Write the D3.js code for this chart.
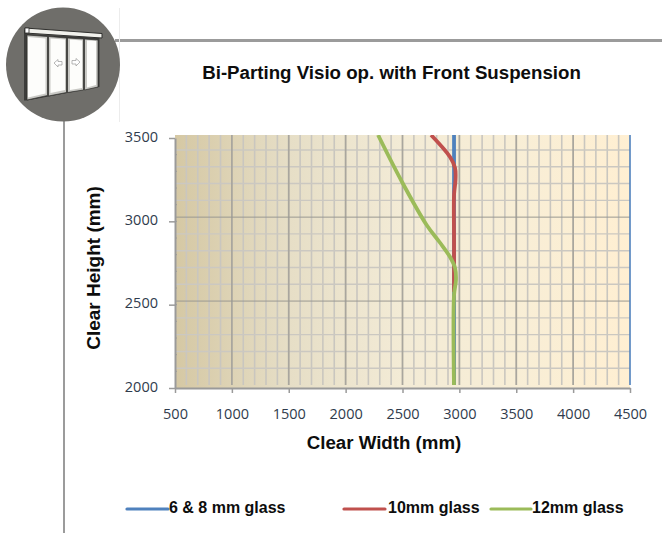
<!DOCTYPE html>
<html>
<head>
<meta charset="utf-8">
<script src="https://cdn.jsdelivr.net/npm/d3@7/dist/d3.min.js"></script>
<style>
html,body{margin:0;padding:0;background:#fff}
svg{display:block}
</style>
</head>
<body>
<svg id="c" width="662" height="533"></svg>
<script>
const chartTitle = "Bi-Parting Visio op. with Front Suspension";
const xTitle = "Clear Width (mm)";
const yTitle = "Clear Height (mm)";
const xTicks = [500,1000,1500,2000,2500,3000,3500,4000,4500];
const yTicks = [2000,2500,3000,3500];
const seriesNames = ["6 & 8 mm glass","10mm glass","12mm glass"];
const seriesColors = ["#4f81bd","#c0504d","#9bbb59"];
const glass8 = [[2953,2000],[2953,3000],[2953,3520]];
const glass10 = [[2953,2576],[2953,2900],[2953,3158],[2966,3248],[2962,3320],[2918,3386],[2751,3518]];
const glass12 = [[2953,2000],[2953,2558],[2970,2648],[2962,2720],[2918,2786],[2825,2876],[2712,2978],[2496,3236],[2285,3518]];

const svg = d3.select("#c");
const x = d3.scaleLinear().domain([500,4500]).range([175,630]);
const y = d3.scaleLinear().domain([2000,3500]).range([388,138]);
const yGrid = d3.scaleLinear().domain([2000,3500]).range([385,133.2]);
const plot = {l:175,r:630,t:135,b:388,gridB:385};

const defs = svg.append("defs");
const g = defs.append("linearGradient").attr("id","bg");
[[0,"#d5c8a4"],[0.25,"#e6dec6"],[0.5,"#f3ebd6"],[0.75,"#f8eed6"],[1,"#ffefd2"]].forEach(s=>g.append("stop").attr("offset",s[0]).attr("stop-color",s[1]));
defs.append("clipPath").attr("id","clip").append("rect").attr("x",plot.l).attr("y",plot.t).attr("width",plot.r-plot.l).attr("height",plot.gridB-plot.t);

// page furniture
svg.append("line").attr("x1",115).attr("x2",662).attr("y1",40.5).attr("y2",40.5).attr("stroke","#9b9b9b").attr("stroke-width",3);
svg.append("line").attr("x1",64).attr("x2",64).attr("y1",120).attr("y2",533).attr("stroke","#9b9b9b").attr("stroke-width",2);
svg.append("line").attr("x1",119.5).attr("x2",119.5).attr("y1",8).attr("y2",122).attr("stroke","#ececec").attr("stroke-width",1);

// icon
const ic = svg.append("g");
ic.append("circle").attr("cx",63).attr("cy",64.5).attr("r",57).attr("fill","#6f6e6a");
const panels = [
 "27,35 47.5,36.5 47.5,95.5 27,100",
 "48.5,36.5 66.5,38 66.5,92.5 48.5,96",
 "67.5,38 83.5,39 83.5,90 67.5,92.5",
 "84.5,39 98,40 98,87 84.5,90"];
const inner = [
 "28,37 45.5,38.5 45.5,93.5 28,97.5",
 "50.5,38.5 65,39.5 65,90 50.5,93",
 "70,39.5 82,40.5 82,88 70,90",
 "87,40.5 96,41 96,85 87,87.5"];
ic.append("polygon").attr("points","24,30 27,30 27,100.5 24,100.5").attr("fill","#3c3c3a");
ic.append("polygon").attr("points","27,34 99.5,38 99.5,87 27,100.5").attr("fill","#3a3a38");
panels.forEach(p=>ic.append("polygon").attr("points",p).attr("fill","#c9c9c5").attr("stroke","#2f2f2d").attr("stroke-width",.7));
inner.forEach(p=>ic.append("polygon").attr("points",p).attr("fill","#fdfdfb"));
ic.append("polygon").attr("points","25,28 102,33.5 102,38 25,33").attr("fill","#f1f1ec").attr("stroke","#2f2f2d").attr("stroke-width",1);
ic.append("rect").attr("x",25).attr("y",28).attr("width",4).attr("height",5).attr("fill","#fff").attr("stroke","#2f2f2d").attr("stroke-width",.8);
ic.append("polygon").attr("points","54,63 58,59.5 58,61.5 62,61.5 62,65 58,65 58,67").attr("fill","#fff").attr("stroke","#999").attr("stroke-width",.7);
ic.append("polygon").attr("points","80,62 76,58.5 76,60.5 72,60.5 72,64 76,64 76,66").attr("fill","#fff").attr("stroke","#999").attr("stroke-width",.7);

// plot background
svg.append("rect").attr("x",plot.l).attr("y",plot.t).attr("width",plot.r-plot.l).attr("height",plot.b-plot.t).attr("fill","url(#bg)");

// grid
const grid = svg.append("g");
const xMinor = d3.range(500,4501,100), yMinor = d3.range(2100,3500,100);
grid.selectAll(".vm").data(xMinor.filter(v=>v%500 && v>500)).join("line")
 .attr("x1",d=>x(d)).attr("x2",d=>x(d)).attr("y1",plot.t).attr("y2",plot.gridB)
 .attr("stroke","#c9c6bf").attr("stroke-width",1.6);
grid.selectAll(".hm").data(yMinor.filter(v=>v%500)).join("line")
 .attr("x1",plot.l).attr("x2",plot.r).attr("y1",d=>yGrid(d)).attr("y2",d=>yGrid(d))
 .attr("stroke","#cbc8c1").attr("stroke-width",1.4);
grid.selectAll(".vM").data(xTicks.filter(v=>v>500&&v<4500)).join("line")
 .attr("x1",d=>x(d)).attr("x2",d=>x(d)).attr("y1",plot.t).attr("y2",plot.gridB)
 .attr("stroke","#a9a69e").attr("stroke-width",1.8);
grid.selectAll(".hM").data(yTicks.filter(v=>v>2000&&v<3500)).join("line")
 .attr("x1",plot.l).attr("x2",plot.r).attr("y1",d=>yGrid(d)).attr("y2",d=>yGrid(d))
 .attr("stroke","#9a9892").attr("stroke-width",1);

// series
const line = d3.line().x(d=>x(d[0])).y(d=>y(d[1])).curve(d3.curveCatmullRom.alpha(0.5));
const lines = svg.append("g").attr("clip-path","url(#clip)");
[glass8,glass10,glass12].forEach((s,i)=>lines.append("path").attr("d",line(s)).attr("fill","none")
 .attr("stroke",seriesColors[i]).attr("stroke-width",3.8));
// right-hand edge
svg.append("line").attr("x1",x(4500)).attr("x2",x(4500)).attr("y1",plot.t).attr("y2",plot.gridB).attr("stroke",seriesColors[0]).attr("stroke-width",1.6);

// axes
const tickFont = "'Open Sans',sans-serif";
const ax = svg.append("g").attr("transform",`translate(0,${plot.b})`)
 .call(d3.axisBottom(x).tickValues(xTicks).tickSize(5).tickPadding(16).tickSizeOuter(0).tickFormat(d3.format("d")));
const ay = svg.append("g").attr("transform",`translate(${plot.l},0)`)
 .call(d3.axisLeft(y).tickValues(yTicks).tickSize(6).tickPadding(11).tickSizeOuter(0).tickFormat(d3.format("d")));
[ax,ay].forEach(a=>{
 a.selectAll("path").attr("stroke","#9a9a9a").attr("stroke-width",2);
 a.selectAll("line").attr("stroke","#9a9a9a").attr("stroke-width",1.5);
 a.selectAll("text").attr("font-family",tickFont).attr("font-size",14.5).attr("fill","#2f3b4c");
});
ay.selectAll("text").attr("dy","0.22em");
svg.append("g").selectAll("line").data(yMinor).join("line")
 .attr("x1",plot.l).attr("x2",plot.l+2).attr("y1",d=>y(d)).attr("y2",d=>y(d)).attr("stroke","#9a9a9a").attr("stroke-width",1);

// text
const bold = (sel,size)=>sel.attr("font-family","'Liberation Sans',Arial,sans-serif").attr("font-weight","bold").attr("font-size",size).attr("fill","#0d0d0d");
bold(svg.append("text").attr("x",391.5).attr("y",79).attr("text-anchor","middle").text(chartTitle),18.7);
bold(svg.append("text").attr("x",384).attr("y",449).attr("text-anchor","middle").text(xTitle),18.7);
bold(svg.append("text").attr("transform","translate(99.5,268) rotate(-90)").attr("text-anchor","middle").text(yTitle),19);

// legend
const legX = [[127,168,169],[344,385,388],[491,531,532]];
seriesNames.forEach((n,i)=>{
 svg.append("line").attr("x1",legX[i][0]).attr("x2",legX[i][1]).attr("y1",509).attr("y2",509)
  .attr("stroke",seriesColors[i]).attr("stroke-width",3.2).attr("stroke-linecap","round");
 bold(svg.append("text").attr("x",legX[i][2]).attr("y",513).text(n),16);
});
</script>
</body>
</html>
